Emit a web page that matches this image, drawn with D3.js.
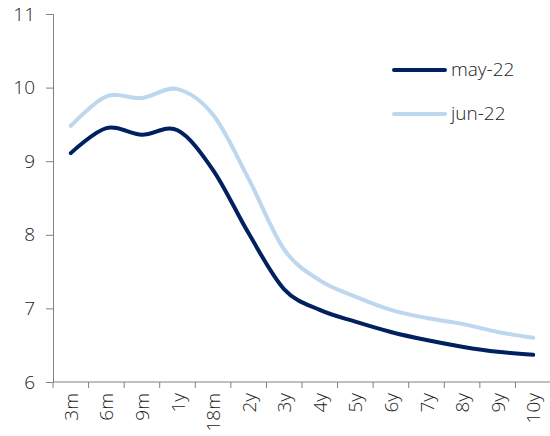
<!DOCTYPE html>
<html>
<head>
<meta charset="utf-8">
<script src="https://cdn.jsdelivr.net/npm/d3@7"></script>
<style>
  body { margin: 0; background: #fff; }
  svg text { font-family: "Open Sans", sans-serif; font-weight: 300; fill: #222; }
</style>
</head>
<body>
<svg id="chart" width="550" height="436"></svg>
<script>
// Yield curve tenors
const tenors = ["3m", "6m", "9m", "1y", "18m", "2y", "3y", "4y", "5y", "6y", "7y", "8y", "9y", "10y"];
// Curve levels (%) per tenor
const may22 = [9.11, 9.45, 9.36, 9.42, 8.88, 8.02, 7.26, 6.98, 6.82, 6.68, 6.57, 6.48, 6.41, 6.37];
const jun22 = [9.48, 9.88, 9.86, 9.98, 9.63, 8.76, 7.80, 7.38, 7.16, 6.98, 6.87, 6.79, 6.68, 6.60];
const yTicks = [6, 7, 8, 9, 10, 11];

const series = [
  { name: "may-22", values: may22, color: "#002060" },
  { name: "jun-22", values: jun22, color: "#bdd7ee" }
];

const svg = d3.select("#chart");
const plot = { left: 53, right: 551, top: 14, bottom: 382 };
const fontSize = 19;

const x = d3.scaleBand().domain(tenors).range([plot.left, plot.right]).padding(0);
const y = d3.scaleLinear().domain([6, 11]).range([plot.bottom, plot.top]);

// Y axis
const yAxis = svg.append("g")
  .attr("transform", `translate(${plot.left},0)`)
  .call(d3.axisLeft(y).tickValues(yTicks).tickSize(7).tickPadding(11).tickFormat(d3.format("d")));
yAxis.selectAll("path, line").attr("stroke", "#808080");
yAxis.selectAll("text")
  .attr("font-size", fontSize)
  .style("font-family", "'Open Sans', sans-serif")
  .style("font-weight", 300)
  .attr("fill", "#222");

// X axis: ticks sit on band boundaries
const xAxis = svg.append("g").attr("transform", `translate(0,${plot.bottom})`);
xAxis.append("line")
  .attr("x1", plot.left).attr("x2", plot.right).attr("y1", 0).attr("y2", 0)
  .attr("stroke", "#808080");
xAxis.selectAll("line.tick").data(tenors).enter().append("line")
  .attr("class", "tick")
  .attr("x1", d => x(d)).attr("x2", d => x(d)).attr("y1", 0).attr("y2", 6)
  .attr("stroke", "#808080");
xAxis.selectAll("text").data(tenors).enter().append("text")
  .attr("transform", d => `translate(${x(d) + x.bandwidth() / 2 + 7},11) rotate(-90)`)
  .attr("text-anchor", "end")
  .attr("font-size", fontSize)
  .text(d => d);

// Smoothed lines
const line = d3.line()
  .x((d, i) => x(tenors[i]) + x.bandwidth() / 2)
  .y(d => y(d))
  .curve(d3.curveCardinal.tension(0));

svg.selectAll("path.series").data(series.slice().reverse()).enter().append("path")
  .attr("class", "series")
  .attr("fill", "none")
  .attr("stroke", d => d.color)
  .attr("stroke-width", 4)
  .attr("stroke-linecap", "round")
  .attr("d", d => line(d.values));

// Legend
const legend = svg.append("g");
series.forEach((s, i) => {
  const ly = 70 + i * 44;
  legend.append("line")
    .attr("x1", 394).attr("x2", 445).attr("y1", ly).attr("y2", ly)
    .attr("stroke", s.color).attr("stroke-width", 4).attr("stroke-linecap", "round");
  legend.append("text")
    .attr("x", 451).attr("y", ly + 6)
    .attr("font-size", fontSize)
    .text(s.name);
});
</script>
</body>
</html>
